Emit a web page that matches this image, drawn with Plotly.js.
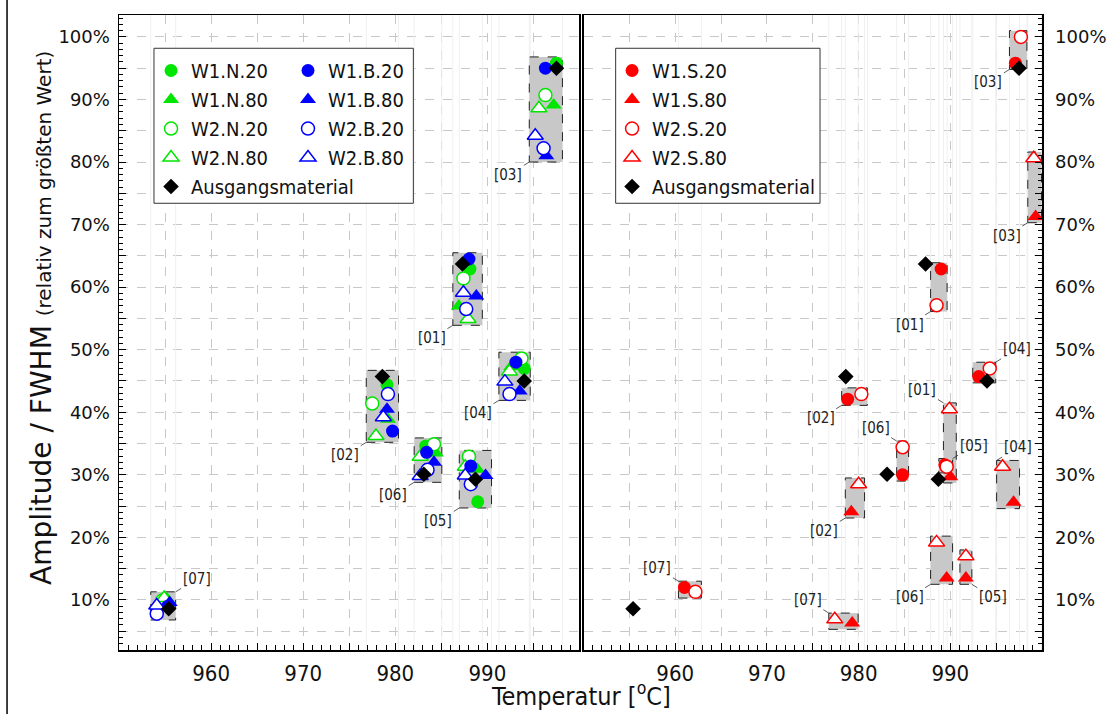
<!DOCTYPE html>
<html><head><meta charset="utf-8">
<script src="https://cdn.plot.ly/plotly-3.0.1.min.js"></script>
<style>html,body{margin:0;padding:0;background:#fff}</style>
</head><body><div id="chart" style="width:1109px;height:714px"></div>
<script>
// ---- data (temperature in °C, value in % relative to largest) ----
const peaks = ['[01]','[02]','[03]','[04]','[05]','[06]','[07]'];

// left panel
const W1N20_T = [988.1, 979.1, 997.5, 994.0, 988.95, 983.3, 955.0];
const W1N20_V = [62.9, 44.4, 95.8, 47.0, 25.7, 34.6, 9.8];
const W1N80_T = [986.9, 979.2, 997.2, 992.6, 988.9, 984.4, 955.2];
const W1N80_V = [57.0, 38.9, 89.1, 47.3, 30.9, 33.5, 10.2];
const W2N20_T = [987.4, 977.5, 996.3, 993.7, 988.0, 984.2, 954.7];
const W2N20_V = [61.4, 41.4, 90.7, 48.6, 32.9, 34.9, 9.9];
const W2N80_T = [987.9, 977.9, 995.6, 992.4, 987.6, 982.7, 954.9];
const W2N80_V = [54.9, 36.2, 88.6, 46.5, 31.3, 32.9, 10.3];
const W1B20_T = [988.0, 979.7, 996.3, 993.1, 988.2, 983.4, 955.3];
const W1B20_V = [64.5, 37.0, 95.0, 48.0, 31.4, 33.6, 9.0];
const W1B80_T = [988.8, 979.1, 996.4, 993.5, 989.8, 984.2, 955.5];
const W1B80_V = [58.6, 40.5, 81.0, 43.4, 29.9, 32.0, 9.6];
const W2B20_T = [987.7, 979.2, 996.1, 992.4, 988.2, 983.5, 954.1];
const W2B20_V = [56.5, 42.9, 82.2, 42.9, 28.5, 30.8, 7.8];
const W2B80_T = [987.4, 978.7, 995.2, 991.9, 987.6, 982.7, 954.1];
const W2B80_V = [59.1, 39.2, 84.2, 44.9, 29.9, 29.8, 9.1];
// starting material (both panels)
const AUS_T = [987.3, 978.6, 997.5, 994.0, 988.7, 983.1, 955.4];
const AUS_V = [63.7, 45.7, 95.0, 45.0, 29.3, 30.1, 8.6];

// right panel
const W1S20_T = [989.0, 978.8, 997.1, 993.1, 989.4, 984.8, 961.0];
const W1S20_V = [62.9, 42.1, 95.8, 45.7, 31.6, 30.0, 12.0];
const W2S20_T = [988.5, 980.3, 997.7, 994.3, 989.6, 984.8, 962.2];
const W2S20_V = [57.1, 42.9, 100.0, 47.0, 31.3, 34.4, 11.3];
const W1S80_T = [990.0, 979.2, 999.3, 996.9, 991.7, 989.6, 979.3];
const W1S80_V = [29.7, 24.1, 71.3, 25.6, 13.5, 13.5, 6.3];
const W2S80_T = [989.9, 980.0, 999.1, 995.7, 991.7, 988.5, 977.4];
const W2S80_V = [40.5, 28.5, 80.6, 31.3, 17.0, 19.2, 6.9];

// ticks
const xTickVals = [955, 960, 965, 970, 975, 980, 985, 990, 995];
const xTickText = ['', '960', '', '970', '', '980', '', '990', ''];
const yTickVals = [5,10,15,20,25,30,35,40,45,50,55,60,65,70,75,80,85,90,95,100];
const yTickText = ['', '10%', '', '20%', '', '30%', '', '40%', '', '50%', '', '60%', '', '70%', '', '80%', '', '90%', '', '100%'];

// label placement (corner of box, direction of label)
const leftCorner = ['bl','bl','bl','bl','bl','bl','tr'];
const leftDir    = ['dl','dl','dl','dl','dl','dl','ur'];
const r20Corner  = ['bl','bl','bl','tr','tr','tl','tl'];
const r20Dir     = ['dl','dl','dl','ur','ur','ul','ul'];
const r80Corner  = ['tl','bl','bl','tl','br','bl','tl'];
const r80Dir     = ['ul','dl','dl','ur','dr','dl','ul'];

// ---- styling ----
const COND = '"DejaVu Sans Condensed", "DejaVu Sans", sans-serif';
const REG = '"DejaVu Sans", sans-serif';
const GREEN = '#00e600', BLUE = '#0000ff', RED = '#ff0000', BLACK = '#000000';
const SZ = {circle: 13, 'triangle-up': 14, diamond: 12};
const XR = [950, 1000], YR = [2, 103.5];

function tr(name, T, V, xa, ya, symbol, color, open, legend) {
  return {
    type: 'scatter', mode: 'markers', name: name, x: T, y: V,
    xaxis: xa, yaxis: ya, legend: legend, hoverinfo: 'skip',
    marker: open
      ? {symbol: symbol, size: SZ[symbol], color: '#ffffff', line: {color: color, width: 1.5}}
      : {symbol: symbol, size: SZ[symbol], color: color, line: {width: 0}}
  };
}

// ---- group boxes (bounding box of a group's markers) ----
const PADX = 0.65, PADY = 1.0;
const boxTraces = [], edgeX = {x: [], x2: []}, edgeY = {x: [], x2: []}, annotations = [];
function addBox(Ts, Vs, i, xa, ya, corner, dir) {
  const xs = Ts.map(a => a[i]), ys = Vs.map(a => a[i]);
  const x0 = Math.min(...xs) - PADX, x1 = Math.max(...xs) + PADX;
  const y0 = Math.min(...ys) - PADY, y1 = Math.max(...ys) + PADY;
  edgeX[xa].push(x0, x0, null, x1, x1, null);
  edgeY[xa].push(YR[0], YR[1], null, YR[0], YR[1], null);
  boxTraces.push({type: 'scatter', mode: 'lines', x: [x0, x1, x1, x0, x0], y: [y0, y0, y1, y1, y0],
    xaxis: xa, yaxis: ya, fill: 'toself', fillcolor: '#c8c8c8', showlegend: false, hoverinfo: 'skip',
    line: {color: '#222', width: 1, dash: 'dash'}});
  annotations.push({xref: xa, yref: ya, x: corner[1] === 'l' ? x0 : x1, y: corner[0] === 't' ? y1 : y0,
    text: peaks[i], showarrow: true, arrowhead: 0, arrowwidth: 0.8, arrowcolor: '#333', standoff: 0,
    ax: dir[1] === 'r' ? 21 : -21, ay: dir[0] === 'u' ? -13 : 13,
    font: {family: COND, size: 15, color: '#222'}});
}
const leftT = [W1N20_T, W1N80_T, W2N20_T, W2N80_T, W1B20_T, W1B80_T, W2B20_T, W2B80_T, AUS_T];
const leftV = [W1N20_V, W1N80_V, W2N20_V, W2N80_V, W1B20_V, W1B80_V, W2B20_V, W2B80_V, AUS_V];
for (let i = 0; i < peaks.length; i++) {
  addBox(leftT, leftV, i, 'x', 'y', leftCorner[i], leftDir[i]);
  addBox([W1S20_T, W2S20_T], [W1S20_V, W2S20_V], i, 'x2', 'y2', r20Corner[i], r20Dir[i]);
  addBox([W1S80_T, W2S80_T], [W1S80_V, W2S80_V], i, 'x2', 'y2', r80Corner[i], r80Dir[i]);
}
const edgeTraces = ['x', 'x2'].map(xa => ({type: 'scatter', mode: 'lines', x: edgeX[xa], y: edgeY[xa],
  xaxis: xa, yaxis: xa === 'x' ? 'y' : 'y2', showlegend: false, hoverinfo: 'skip', connectgaps: false,
  line: {color: '#f0f0f0', width: 1}}));

const data = edgeTraces.concat(boxTraces).concat([
  tr('W1.N.20', W1N20_T, W1N20_V, 'x', 'y', 'circle', GREEN, false, 'legend'),
  tr('W1.N.80', W1N80_T, W1N80_V, 'x', 'y', 'triangle-up', GREEN, false, 'legend'),
  tr('W2.N.20', W2N20_T, W2N20_V, 'x', 'y', 'circle', GREEN, true, 'legend'),
  tr('W2.N.80', W2N80_T, W2N80_V, 'x', 'y', 'triangle-up', GREEN, true, 'legend'),
  tr('W1.B.20', W1B20_T, W1B20_V, 'x', 'y', 'circle', BLUE, false, 'legend2'),
  tr('W1.B.80', W1B80_T, W1B80_V, 'x', 'y', 'triangle-up', BLUE, false, 'legend2'),
  tr('W2.B.20', W2B20_T, W2B20_V, 'x', 'y', 'circle', BLUE, true, 'legend2'),
  tr('W2.B.80', W2B80_T, W2B80_V, 'x', 'y', 'triangle-up', BLUE, true, 'legend2'),
  tr('Ausgangsmaterial', AUS_T, AUS_V, 'x', 'y', 'diamond', BLACK, false, 'legend'),
  tr('W1.S.20', W1S20_T, W1S20_V, 'x2', 'y2', 'circle', RED, false, 'legend3'),
  tr('W1.S.80', W1S80_T, W1S80_V, 'x2', 'y2', 'triangle-up', RED, false, 'legend3'),
  tr('W2.S.20', W2S20_T, W2S20_V, 'x2', 'y2', 'circle', RED, true, 'legend3'),
  tr('W2.S.80', W2S80_T, W2S80_V, 'x2', 'y2', 'triangle-up', RED, true, 'legend3'),
  tr('Ausgangsmaterial', AUS_T, AUS_V, 'x2', 'y2', 'diamond', BLACK, false, 'legend3')
]);

// legend frames and outer frame line
const shapes = [
  {type: 'rect', xref: 'paper', yref: 'paper', x0: 0.0379, x1: 0.3189, y0: 0.7035, y1: 0.9476,
    fillcolor: '#ffffff', line: {color: '#333', width: 1}, layer: 'above'},
  {type: 'rect', xref: 'paper', yref: 'paper', x0: 0.5381, x1: 0.7595, y0: 0.7035, y1: 0.9476,
    fillcolor: '#ffffff', line: {color: '#333', width: 1}, layer: 'above'},
  {type: 'line', xref: 'paper', yref: 'paper', x0: -0.1213, x1: -0.1213, y0: -0.2, y1: 1.1,
    line: {color: '#000', width: 1.5}, layer: 'above'}
];

// titles
annotations.push({xref: 'paper', yref: 'paper', x: 0.5, y: -0.0985, xanchor: 'center', yanchor: 'bottom',
  text: 'Temperatur [<sup>o</sup>C]', showarrow: false, font: {family: COND, size: 25, color: '#111'}});
annotations.push({xref: 'paper', yref: 'paper', x: -0.0834, y: 0.523, xanchor: 'center', yanchor: 'middle',
  textangle: -90, showarrow: false,
  text: 'Amplitude / FWHM <span style="font-size:20px">(relativ zum größten Wert)</span>',
  font: {family: REG, size: 28, color: '#111'}});

const axX = {
  range: XR, tickmode: 'array', tickvals: xTickVals, ticktext: xTickText,
  ticks: 'inside', ticklen: 7, tickwidth: 1, tickcolor: '#000',
  showline: true, linecolor: '#000', linewidth: 1.5, mirror: true,
  showgrid: true, gridcolor: '#c8c8c8', griddash: 'dash', gridwidth: 1, zeroline: false,
  tickfont: {family: COND, size: 22, color: '#111'}, ticklabelstandoff: 3,
  minor: {dtick: 1, tick0: 950, ticks: 'inside', ticklen: 5, tickcolor: '#000', tickwidth: 1, showgrid: false}
};
const axY = {
  range: YR, tickmode: 'array', tickvals: yTickVals, ticktext: yTickText,
  ticks: 'inside', ticklen: 7, tickwidth: 1, tickcolor: '#000',
  showline: true, linecolor: '#000', linewidth: 1.5, mirror: true,
  showgrid: true, gridcolor: '#c8c8c8', griddash: 'dash', gridwidth: 1, zeroline: false,
  tickfont: {family: REG, size: 18, color: '#111'},
  minor: {dtick: 1, tick0: 0, ticks: 'inside', ticklen: 4, tickcolor: '#000', tickwidth: 1, showgrid: false}
};

const legBase = {xref: 'paper', yref: 'paper', xanchor: 'left', yanchor: 'top', bgcolor: 'rgba(0,0,0,0)',
  borderwidth: 0, font: {family: COND, size: 20, color: '#111'}, traceorder: 'normal'};

const layout = {
  width: 1109, height: 714,
  margin: {l: 119, r: 67, t: 15, b: 64},
  paper_bgcolor: '#ffffff', plot_bgcolor: '#ffffff',
  showlegend: true,
  xaxis: Object.assign({}, axX, {domain: [0, 0.4989], anchor: 'y'}),
  xaxis2: Object.assign({}, axX, {domain: [0.5033, 1], anchor: 'y2'}),
  yaxis: Object.assign({}, axY, {anchor: 'x', side: 'left', ticklabelstandoff: 4}),
  yaxis2: Object.assign({}, axY, {anchor: 'x2', side: 'right', ticklabelstandoff: 8}),
  legend: Object.assign({}, legBase, {x: 0.0347, y: 0.9433}),
  legend2: Object.assign({}, legBase, {x: 0.1831, y: 0.9433}),
  legend3: Object.assign({}, legBase, {x: 0.5342, y: 0.9433}),
  shapes: shapes, annotations: annotations
};

Plotly.newPlot('chart', data, layout, {staticPlot: true, displayModeBar: false});
</script></body></html>
